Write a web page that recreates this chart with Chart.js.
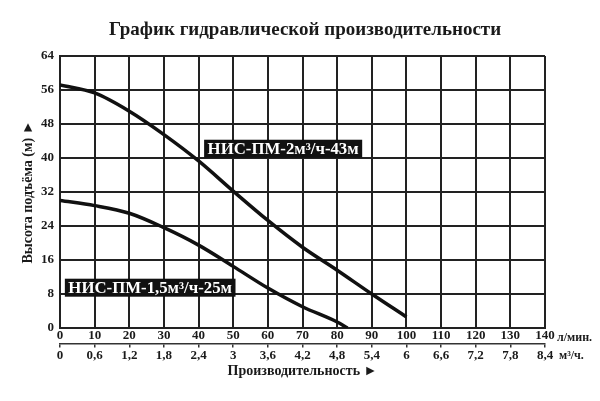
<!DOCTYPE html>
<html>
<head>
<meta charset="utf-8">
<script src="https://cdn.jsdelivr.net/npm/chart.js@4"></script>
<style>
  body { margin: 0; background: #fff; }
  #wrap { width: 600px; height: 401px; }
</style>
</head>
<body>
<div id="wrap"><canvas id="myChart"></canvas></div>
<script>
// расход, л/мин, и напор, м
var flowBig = [0, 10, 20, 30, 40, 50, 60, 70, 80, 90, 100];
var headBig = [57.2, 55.3, 51, 45.5, 39.3, 32.2, 25.3, 19, 13.6, 8, 2.6];
var flowSmall = [0, 10, 20, 30, 40, 50, 60, 70, 80, 83];
var headSmall = [30, 28.8, 27, 23.6, 19.5, 14.5, 9.4, 5, 1.4, 0];
var seriesNames = ['НИС-ПМ-2м³/ч-43м', 'НИС-ПМ-1,5м³/ч-25м'];
var chartTitle = 'График гидравлической производительности';
var lpmToM3h = 0.06;

var serif = "'Liberation Serif', 'DejaVu Serif', serif";
var ink = '#1a1a1a';

function toPoints(xs, ys) {
    return xs.map((x, i) => ({ x: x, y: ys[i] }));
}

// заголовок, подписи кривых в чёрных плашках, единицы осей
var extras = {
    id: 'extras',
    afterDatasetsDraw(chart) {
        let ctx = chart.ctx;
        let sx = chart.scales.x, sy = chart.scales.y;
        let spots = [
            { text: seriesNames[0], x: 41.6, y: 44.3 },
            { text: seriesNames[1], x: 1.4, y: 11.6 }
        ];
        ctx.save();
        ctx.font = 'bold 16.8px ' + serif;
        ctx.textBaseline = 'middle';
        spots.forEach(s => {
            let px = sx.getPixelForValue(s.x);
            let py = sy.getPixelForValue(s.y);
            let w = ctx.measureText(s.text).width + 7;
            ctx.fillStyle = '#111';
            ctx.fillRect(px, py, w, 18);
            ctx.fillStyle = '#fff';
            ctx.fillText(s.text, px + 3.5, py + 9.5);
        });
        ctx.restore();
    },
    afterDraw(chart) {
        let ctx = chart.ctx;
        let sx = chart.scales.x, sx2 = chart.scales.x2;
        ctx.save();
        ctx.fillStyle = ink;
        ctx.textBaseline = 'middle';
        ctx.textAlign = 'center';
        ctx.font = 'bold 19px ' + serif;
        ctx.fillText(chartTitle, 305, 30);
        ctx.textAlign = 'left';
        ctx.font = 'bold 12px ' + serif;
        ctx.fillText('л/мин.', sx.right + 12, sx.top + 10);
        ctx.fillText('м³/ч.', sx.right + 14, sx2.top + 12);
        ctx.restore();
    }
};

let ctx = document.getElementById('myChart').getContext('2d');
let myChart = new Chart(ctx, {
    type: 'line',
    data: {
        datasets: [{
            label: seriesNames[0],
            data: toPoints(flowBig, headBig),
            borderColor: '#111',
            borderWidth: 3.5,
            pointRadius: 0,
            cubicInterpolationMode: 'monotone',
            fill: false
        }, {
            label: seriesNames[1],
            data: toPoints(flowSmall, headSmall),
            borderColor: '#111',
            borderWidth: 3.5,
            pointRadius: 0,
            cubicInterpolationMode: 'monotone',
            fill: false
        }]
    },
    options: {
        responsive: true,
        maintainAspectRatio: false,
        animation: false,
        layout: { padding: { left: 21, right: 55, top: 56, bottom: 21 } },
        plugins: {
            legend: { display: false },
            tooltip: { enabled: false },
            title: { display: false }
        },
        scales: {
            x: {
                type: 'linear',
                position: 'bottom',
                min: 0, max: 140,
                ticks: { stepSize: 10, color: ink, padding: 0, font: { family: serif, size: 13, weight: 'bold' } },
                grid: { color: '#222', lineWidth: 2, drawTicks: false },
                border: { color: '#222', width: 2 }
            },
            x2: {
                type: 'linear',
                position: 'bottom',
                min: 0, max: 140,
                ticks: {
                    stepSize: 10, color: ink, padding: 0,
                    font: { family: serif, size: 13, weight: 'bold' },
                    callback: v => String(+(v * lpmToM3h).toFixed(1)).replace('.', ',')
                },
                grid: { drawOnChartArea: false, drawTicks: true, tickLength: 4, color: '#333', lineWidth: 1.5 },
                border: { color: '#333', width: 1.5 },
                title: {
                    display: true,
                    text: 'Производительность ►',
                    color: ink,
                    font: { family: serif, size: 14, weight: 'bold' },
                    padding: { top: 0, bottom: 0 }
                }
            },
            y: {
                min: 0, max: 64,
                ticks: { stepSize: 8, color: ink, padding: 6, font: { family: serif, size: 13, weight: 'bold' } },
                grid: { color: '#222', lineWidth: 2, drawTicks: false },
                border: { color: '#222', width: 2 },
                title: {
                    display: true,
                    text: 'Высота подъёма (м) ►',
                    color: ink,
                    font: { family: serif, size: 14, weight: 'bold', lineHeight: 1 },
                    padding: { top: 0, bottom: 0 }
                }
            }
        }
    },
    plugins: [extras]
});
</script>
</body>
</html>
